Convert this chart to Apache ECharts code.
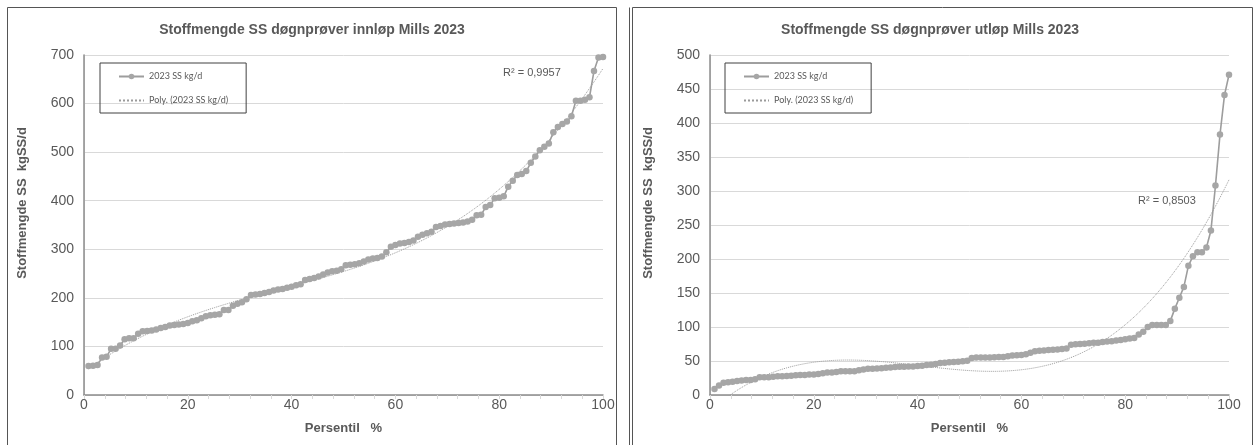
<!DOCTYPE html>
<html><head><meta charset="utf-8">
<script src="https://cdn.jsdelivr.net/npm/echarts@6/dist/echarts.min.js"></script>
<style>html,body{margin:0;padding:0;background:#fff;}#c{width:1256px;height:445px;}</style>
</head><body><div id="c"></div>
<script>
const seriesName = '2023 SS kg/d';
const trendName = 'Poly. (2023 SS kg/d)';
const titleIn = 'Stoffmengde SS døgnprøver innløp Mills 2023';
const titleOut = 'Stoffmengde SS døgnprøver utløp Mills 2023';
const yName = 'Stoffmengde SS  kgSS/d';
const xName = 'Persentil   %';
const xTicks = [0, 20, 40, 60, 80, 100];
const yTicksIn = [0, 100, 200, 300, 400, 500, 600, 700];
const yTicksOut = [0, 50, 100, 150, 200, 250, 300, 350, 400, 450, 500];
const r2In = 'R² = 0,9957';
const r2Out = 'R² = 0,8503';

// sorted daily loads (kg SS/d), innløp
const inletKgd = [
  59.5, 60, 62, 77, 79, 95, 95, 102, 115, 117, 117, 126, 131, 132, 133, 135, 138, 140, 143, 144,
  145, 146, 148, 152, 154, 158, 162, 164, 165, 166, 175, 175, 184, 188, 191, 197, 206, 207, 208, 210,
  212, 215, 217, 218, 221, 223, 226, 228, 237, 239, 241, 244, 248, 252, 255, 256, 259, 267, 268, 269,
  271, 275, 279, 281, 282, 285, 294, 305, 309, 312, 313, 315, 318, 326, 330, 333, 336, 346, 348, 351,
  352, 353, 354, 355, 357, 361, 370, 371, 387, 391, 405, 406, 409, 429, 441, 453, 455, 461, 478, 491,
  504, 511, 518, 541, 552, 558, 563, 574, 606, 606, 608, 613, 667, 695, 696
];
// sorted daily loads (kg SS/d), utløp
const outletKgd = [
  9, 14, 18, 18.6, 19.5, 20.5, 21.5, 22, 22, 23, 26, 26, 26, 27, 27.4, 27.4, 28, 28.3, 29, 29.3,
  29.3, 30, 30.3, 30.8, 32, 33, 33, 33.7, 35, 35, 35, 35, 36.5, 37.5, 38.5, 38.6, 39, 39.5, 40, 40.5,
  41, 41.5, 41.5, 42, 42, 42.5, 43, 44, 44.5, 45.5, 47, 47.5, 48, 48.6, 49, 49.5, 50.4, 54.5, 55, 55,
  55.2, 55.3, 55.5, 55.7, 56, 57, 58, 58.5, 59, 60, 62, 64.5, 65, 65.5, 66, 66.5, 67, 67.5, 68.5, 74,
  74.5, 75, 75.3, 76, 76.7, 77, 78, 78.5, 79, 80, 81, 82, 83, 84, 89, 93, 100, 103, 103, 103,
  103, 109, 127, 143, 159, 190, 204, 210, 210, 217, 242, 308, 383, 441, 471
];

function percentiles(vals) { return vals.map((v, i) => [(i + 1) * 100 / vals.length, v]); }

// least-squares polynomial trendline (as the spreadsheet's "Poly." trendline)
function polyfit(pts, order) {
  const n = order + 1;
  const A = Array.from({length: n}, () => new Array(n + 1).fill(0));
  pts.forEach(([x0, y]) => {
    const x = x0 / 100; const pw = [1];
    for (let j = 1; j <= 2 * order; j++) pw[j] = pw[j - 1] * x;
    for (let i = 0; i < n; i++) { for (let j = 0; j < n; j++) A[i][j] += pw[i + j]; A[i][n] += y * pw[i]; }
  });
  for (let c = 0; c < n; c++) {
    let p = c; for (let r = c + 1; r < n; r++) if (Math.abs(A[r][c]) > Math.abs(A[p][c])) p = r;
    [A[c], A[p]] = [A[p], A[c]];
    for (let r = 0; r < n; r++) if (r !== c) { const f = A[r][c] / A[c][c]; for (let k = c; k <= n; k++) A[r][k] -= f * A[c][k]; }
  }
  return A.map((row, i) => row[n] / row[i]);
}
function polyval(c, x0) { const x = x0 / 100; let s = 0, p = 1; for (const k of c) { s += k * p; p *= x; } return s; }

const ptsIn = percentiles(inletKgd);
const ptsOut = percentiles(outletKgd);
const ORDER = 3;
const cIn = polyfit(ptsIn, ORDER), cOut = polyfit(ptsOut, ORDER);
function trendData(pts, c) {
  const out = []; const x0 = pts[0][0], x1 = pts[pts.length - 1][0];
  for (let k = 0; k <= 400; k++) { const x = x0 + (x1 - x0) * k / 400; out.push([x, polyval(c, x)]); }
  return out;
}

const FONT = 'Liberation Sans, Arial, sans-serif';
const TXT = '#595959';
const LIGHT = '#d9d9d9';
const DARK = '#8c8c8c';

function mainX(gi) {
  return {
    type: 'value', gridIndex: gi, min: xTicks[0], max: xTicks[xTicks.length - 1], interval: xTicks[1] - xTicks[0],
    name: xName, nameLocation: 'middle', nameGap: 27,
    nameTextStyle: {fontFamily: FONT, fontWeight: 'bold', fontSize: 13, color: TXT},
    axisLine: {show: true, lineStyle: {color: LIGHT, width: 1}},
    axisTick: {show: true, length: 4, lineStyle: {color: LIGHT}},
    minorTick: {show: true, splitNumber: 5, length: 4, lineStyle: {color: LIGHT}},
    splitLine: {show: false},
    axisLabel: {fontFamily: FONT, fontSize: 14, color: TXT, margin: 3}
  };
}
function frameX(gi) {
  return {type: 'value', gridIndex: gi, position: 'top', min: xTicks[0], max: xTicks[xTicks.length - 1],
    axisLine: {show: true, lineStyle: {color: DARK, width: 1.5}}, axisTick: {show: false}, axisLabel: {show: false}, splitLine: {show: false}};
}
function mainY(gi, ticks) {
  return {
    type: 'value', gridIndex: gi, min: ticks[0], max: ticks[ticks.length - 1], interval: ticks[1] - ticks[0],
    name: yName, nameLocation: 'middle', nameGap: 55,
    nameTextStyle: {fontFamily: FONT, fontWeight: 'bold', fontSize: 13, color: TXT, padding: [0, 0, 0, 44]},
    axisLine: {show: true, lineStyle: {color: LIGHT}},
    axisTick: {show: false},
    splitLine: {show: true, lineStyle: {color: LIGHT, width: 1}},
    axisLabel: {fontFamily: FONT, fontSize: 14, color: TXT, margin: 10}
  };
}
function frameY(gi, ticks) {
  return {type: 'value', gridIndex: gi, position: 'right', min: ticks[0], max: ticks[ticks.length - 1],
    axisLine: {show: true, lineStyle: {color: DARK, width: 1.5}}, axisTick: {show: false}, axisLabel: {show: false}, splitLine: {show: false}};
}
function dataSeries(xi, yi, pts) {
  return {type: 'line', name: seriesName, xAxisIndex: xi, yAxisIndex: yi, data: pts, z: 3,
    symbol: 'circle', symbolSize: 6.5, showSymbol: true,
    lineStyle: {color: '#9d9d9d', width: 1.6}, itemStyle: {color: '#a6a6a6'}, emphasis: {disabled: true}};
}
function trendSeries(xi, yi, pts) {
  return {type: 'line', name: trendName, xAxisIndex: xi, yAxisIndex: yi, data: pts, z: 2,
    symbol: 'none', showSymbol: false,
    lineStyle: {color: '#9a9a9a', width: 1, type: 'dotted'}, itemStyle: {color: '#9a9a9a'}, emphasis: {disabled: true}};
}
function legend(left) {
  return {left: left, top: 63, orient: 'vertical',
    data: [{name: seriesName}, {name: trendName, itemStyle: {opacity: 0}}],
    itemWidth: 25, itemHeight: 7, itemGap: 15, padding: [9, 18, 8, 18],
    borderColor: '#404040', borderWidth: 1, selectedMode: false,
    textStyle: {fontFamily: 'Lato, sans-serif', fontSize: 9, color: TXT}};
}

const chart = echarts.init(document.getElementById('c'), null, {renderer: 'canvas'});
chart.setOption({
  animation: false,
  backgroundColor: '#fff',
  title: [
    {text: titleIn, left: 307, top: 18, textAlign: 'center', textStyle: {fontFamily: FONT, fontWeight: 'bold', fontSize: 14, color: TXT}},
    {text: titleOut, left: 925, top: 18, textAlign: 'center', textStyle: {fontFamily: FONT, fontWeight: 'bold', fontSize: 14, color: TXT}}
  ],
  legend: [legend(100), legend(725)],
  grid: [
    {left: 84, top: 55, width: 519, height: 340},
    {left: 710, top: 55, width: 519, height: 340}
  ],
  xAxis: [mainX(0), frameX(0), mainX(1), frameX(1)],
  yAxis: [mainY(0, yTicksIn), frameY(0, yTicksIn), mainY(1, yTicksOut), frameY(1, yTicksOut)],
  series: [
    trendSeries(0, 0, trendData(ptsIn, cIn)), dataSeries(0, 0, ptsIn),
    trendSeries(2, 2, trendData(ptsOut, cOut)), dataSeries(2, 2, ptsOut)
  ],
  graphic: [
    {type: 'rect', shape: {x: 7.5, y: 7.5, width: 609, height: 460}, style: {fill: null, stroke: '#555', lineWidth: 1}, silent: true},
    {type: 'line', shape: {x1: 629.5, y1: 7.5, x2: 629.5, y2: 460}, style: {stroke: '#555', lineWidth: 1}, silent: true},
    {type: 'rect', shape: {x: 632.5, y: 7.5, width: 620, height: 460}, style: {fill: null, stroke: '#555', lineWidth: 1}, silent: true},
    {type: 'text', x: 503, y: 73, style: {text: r2In, font: '11px ' + FONT, fill: TXT, verticalAlign: 'middle'}, silent: true},
    {type: 'text', x: 1138, y: 201, style: {text: r2Out, font: '11px ' + FONT, fill: TXT, verticalAlign: 'middle'}, silent: true}
  ]
});
</script></body></html>
